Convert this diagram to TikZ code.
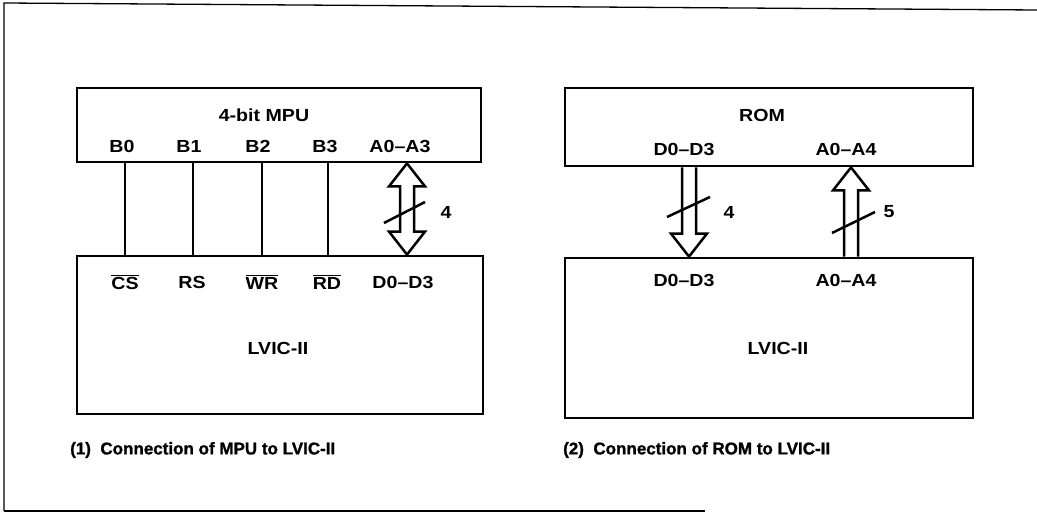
\documentclass[tikz,border=0pt]{standalone}
\usepackage{fontspec}
\setmainfont{Liberation Sans}
\newfontfamily\lblfont{Liberation Sans}[FakeStretch=1.12]
\newfontfamily\capfont{Liberation Sans Bold}[FakeBold=1.2]
\usetikzlibrary{calc}
\newcommand\olbar[1]{\ensuremath{\overline{\mbox{#1}}}}
\begin{document}
\begin{tikzpicture}[x=1pt,y=-1pt,
  box/.style={draw,line width=2.8pt,inner sep=0pt},
  lbl/.style={inner sep=0pt,font=\lblfont\bfseries\fontsize{17.5}{20}\selectfont},
  captext/.style={inner sep=0pt,anchor=west,font=\capfont\fontsize{17}{20}\selectfont},
  pin/.style={line width=2.2pt},
  fat/.style={line width=2.5pt,line join=miter},
  slash/.style={line width=2.5pt},
  frame/.style={line width=1.3pt}]
\useasboundingbox (0,0) rectangle (1037,521);
% frame
\coordinate (f1) at (4,511);
\coordinate (f2) at (4,3);
\coordinate (f3) at (1037,10);
\coordinate (f4) at (705,511);
\draw[frame] (f1) -- (f2) -- (f3);
\draw[frame] (f1) -- (f4);
% ---------- panel 1 ----------
\node[box,minimum width=404pt,minimum height=74pt] (mpu) at (279,125) {};
\node[box,minimum width=406pt,minimum height=158pt] (lvA) at (280,335) {};
\node[lbl] (mputxt) at (264,115) {4-bit MPU};
\node[lbl] (b0) at (122,146) {B0};
\node[lbl] (b1) at (189,146) {B1};
\node[lbl] (b2) at (258,146) {B2};
\node[lbl] (b3) at (325,146) {B3};
\node[lbl] (aA) at (400,146) {A0–A3};
\node[lbl] (cs) at (125,282) {\olbar{CS}};
\node[lbl] (rs) at (192,282) {RS};
\node[lbl] (wr) at (262,282) {\olbar{WR}};
\node[lbl] (rd) at (327,282) {\olbar{RD}};
\node[lbl] (dA) at (403,282) {D0–D3};
\node[lbl] (lvAtxt) at (278,348) {LVIC-II};
\draw[pin] ([xshift=3pt]b0.center |- mpu.south) -- ([xshift=3pt]b0.center |- lvA.north);
\draw[pin] ([xshift=4pt]b1.center |- mpu.south) -- ([xshift=4pt]b1.center |- lvA.north);
\draw[pin] ([xshift=4pt]b2.center |- mpu.south) -- ([xshift=4pt]b2.center |- lvA.north);
\draw[pin] ([xshift=3pt]b3.center |- mpu.south) -- ([xshift=3pt]b3.center |- lvA.north);
% double fat arrow
\coordinate (t1) at (407,0 |- mpu.south);
\coordinate (u1) at (407,0 |- lvA.north);
\draw[fat] (t1) -- ++(18,23) -- ++(-11,0) -- ($(u1)+(7,-23)$) -- ++(11,0) -- (u1)
  -- ++(-18,-23) -- ++(11,0) -- ($(t1)+(-7,23)$) -- ++(-11,0) -- cycle;
\coordinate (s1a) at (384,223);
\coordinate (s1b) at (425,202);
\draw[slash] (s1a) -- (s1b);
\node[lbl] (n4a) at (446,212) {4};
\node[captext] (cap1) at (70,450) {(1)\ \ Connection of MPU to LVIC-II};
% ---------- panel 2 ----------
\node[box,minimum width=408pt,minimum height=78pt] (rom) at (769,127) {};
\node[box,minimum width=408pt,minimum height=160pt] (lvB) at (769,338) {};
\node[lbl] (romtxt) at (762,115) {ROM};
\node[lbl] (rd0) at (684,149) {D0–D3};
\node[lbl] (ra0) at (846,149) {A0–A4};
\node[lbl] (ld0) at (684,280) {D0–D3};
\node[lbl] (la0) at (846,280) {A0–A4};
\node[lbl] (lvBtxt) at (778,348) {LVIC-II};
% down fat arrow
\coordinate (t2) at (689,0 |- rom.south);
\coordinate (u2) at (689,0 |- lvB.north);
\draw[fat] ($(t2)+(-7,0)$) -- ($(u2)+(-7,-23)$) -- ++(-11,0) -- (u2) -- ++(18,-23) -- ++(-11,0) -- ($(t2)+(7,0)$);
\coordinate (s2a) at (667,217);
\coordinate (s2b) at (710,197);
\draw[slash] (s2a) -- (s2b);
\node[lbl] (n4b) at (729,212) {4};
% up fat arrow
\coordinate (t3) at (851,0 |- rom.south);
\coordinate (u3) at (851,0 |- lvB.north);
\draw[fat] ($(u3)+(-7,0)$) -- ($(t3)+(-7,23)$) -- ++(-11,0) -- (t3) -- ++(18,23) -- ++(-11,0) -- ($(u3)+(7,0)$);
\coordinate (s3a) at (832,233);
\coordinate (s3b) at (875,212);
\draw[slash] (s3a) -- (s3b);
\node[lbl] (n5) at (889,212) {5};
\node[captext] (cap2) at (563,450) {(2)\ \ Connection of ROM to LVIC-II};
\end{tikzpicture}
\end{document}
